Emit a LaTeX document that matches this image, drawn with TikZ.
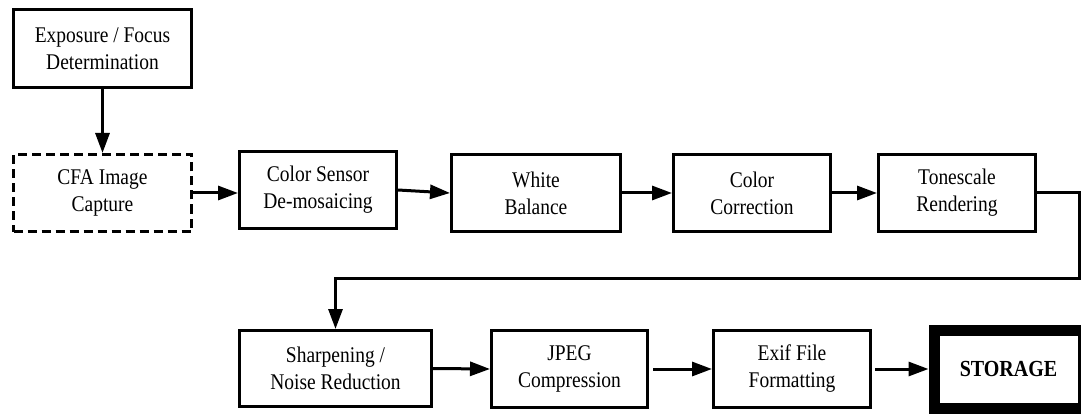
\documentclass[tikz,border=0pt]{standalone}
\usepackage{fontspec}
\setmainfont[FakeStretch=0.87]{Liberation Serif}
\usetikzlibrary{arrows.meta}
\begin{document}
\begin{tikzpicture}[x=1pt,y=-1pt,
  stage/.style={draw, line width=3pt, align=center, inner sep=0pt,
    font=\fontsize{22.4}{27}\selectfont, minimum height=77pt},
  dashstage/.style={stage, dash pattern=on 9pt off 5pt},
  sink/.style={draw, line width=11pt, align=center, inner sep=0pt,
    font=\fontsize{23}{27}\selectfont\bfseries},
  flow/.style={line width=3pt, -{Triangle[length=20pt,width=14pt]}},
  wire/.style={line width=3pt}]
\useasboundingbox (0,0) rectangle (1081,414);

% first row: capture chain
\node[stage, minimum width=178pt, minimum height=78pt] (expo) at (102.5,48.5) {Exposure / Focus\\Determination};
\node[dashstage, minimum width=178pt] (cfa) at (102.5,193) {CFA Image\\Capture};
\node[stage, minimum width=157pt] (sensor) at (318,190) {Color Sensor\\De-mosaicing};
\node[stage, minimum width=169pt] (wb) at (536,193) {White\\Balance};
\node[stage, minimum width=157pt] (cc) at (752,193) {Color\\Correction};
\node[stage, minimum width=157pt] (tone) at (957,193) {Tonescale\\Rendering};

% second row: finishing and output
\node[stage, minimum width=192pt, minimum height=76pt] (sharp) at (335.5,368.5) {Sharpening /\\Noise Reduction};
\node[stage, minimum width=156pt] (jpeg) at (569.5,369) {JPEG\\Compression};
\node[stage, minimum width=157pt] (exif) at (792,369) {Exif File\\Formatting};
\node[sink, minimum width=149pt, minimum height=78pt] (store) at (1008.5,369) {STORAGE};

% connectors
\draw[flow] (expo.south) -- (cfa.north);
\draw[flow] (cfa.east) -- (cfa.east -| sensor.west);
\draw[flow] (sensor.east) -- (wb.west);
\draw[flow] (wb.east) -- (cc.west);
\draw[flow] (cc.east) -- (tone.west);

\coordinate (turnA) at (1079.5,193);
\coordinate (turnB) at (335.5,278);
\draw[flow] (tone.east) -- (turnA) |- (turnB) -- (sharp.north);

\draw[flow] (sharp.east) -- (jpeg.west);
\draw[flow] ([xshift=4pt]jpeg.east) -- (exif.west);
\draw[flow] ([xshift=3pt]exif.east) -- (store.west);
\end{tikzpicture}
\end{document}
